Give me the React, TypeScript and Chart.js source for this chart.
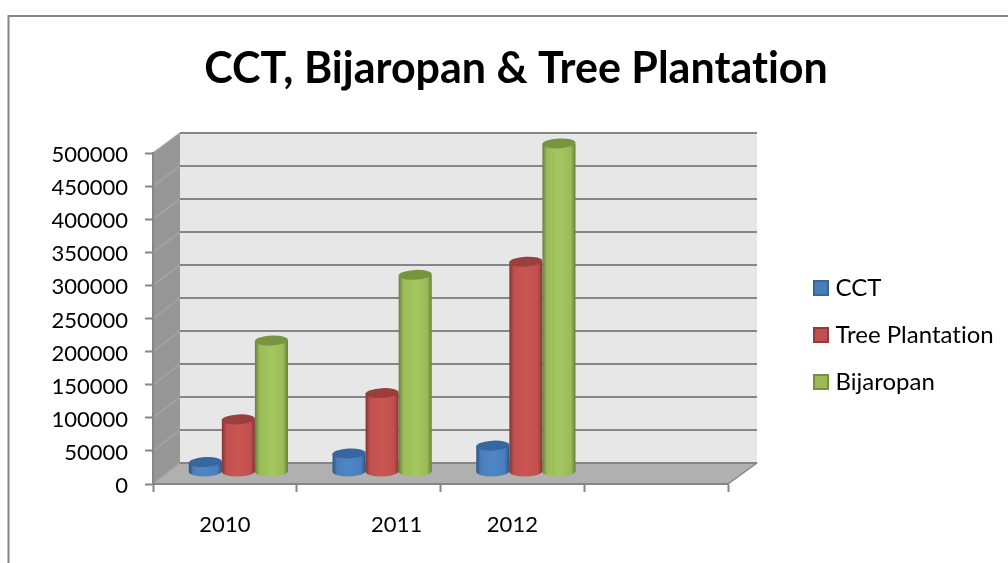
import React, { useEffect, useRef } from "react";
import { Chart, registerables } from "chart.js";

Chart.register(...registerables);

const TITLE = "CCT, Bijaropan & Tree Plantation";
const CATEGORIES = ["2010", "2011", "2012", ""];
const CCT = [15000, 28000, 40000, null];
const TREE_PLANTATION = [80000, 120000, 320000, null];
const BIJAROPAN = [200000, 300000, 500000, null];
const SERIES_NAMES = ["CCT", "Tree Plantation", "Bijaropan"];
const FILL = ["#4a7ebb", "#c0504d", "#9bbb59"];
const LIGHT = ["#4f86c6", "#cb5653", "#a3c75f"];
const EDGE = ["#2a5585", "#843432", "#64803a"];
const CAP = ["#38679f", "#9a3f3d", "#78943f"];
const LEGEND_EDGE = ["#3a6797", "#943b39", "#76923c"];
const TICK_STEP = 50000;
const TICK_MAX = 500000;
const LABEL_NUDGE = [0, 28, 0, 0];

const LINE = "#868686";
const FONT = "Lato";

const threeD = {
  id: "threeD",
  afterLayout(chart: any) {
    const t = chart.titleBlock;
    t.left = 24;
    t.right = 1008;
    const lg = chart.legend;
    lg.left = 795.5;
    lg.right = 1008;
    lg.top = 253;
    lg.bottom = 563;
    chart.scales.x.getLabelItems().forEach((item: any, i: number) => {
      item.options.translation[0] += LABEL_NUDGE[i] || 0;
    });
    chart.scales.y.getLabelItems().forEach((item: any) => {
      item.options.translation[0] += 1;
      item.options.translation[1] += 2;
    });
  },
  beforeDraw(chart: any) {
    const { ctx, chartArea: a, scales } = chart;
    const L = a.left, R = a.right, T = a.top, B = a.bottom;
    const dxL = 27, dxR = 29, dy = 21;
    ctx.save();
    ctx.fillStyle = "#fff";
    ctx.fillRect(0, 0, chart.width, chart.height);
    // frame
    ctx.strokeStyle = LINE;
    ctx.lineWidth = 2;
    ctx.beginPath();
    ctx.moveTo(8.5, chart.height);
    ctx.lineTo(8.5, 16);
    ctx.lineTo(chart.width, 16);
    ctx.stroke();
    // back wall
    ctx.fillStyle = "#e7e7e7";
    ctx.fillRect(L + dxL, T - 20, R + dxR - L - dxL, B - T - 1);
    // side wall
    ctx.fillStyle = "#969696";
    ctx.beginPath();
    ctx.moveTo(L, B);
    ctx.lineTo(L + dxL, B - dy);
    ctx.lineTo(L + dxL, T - 20);
    ctx.lineTo(L, T);
    ctx.closePath();
    ctx.fill();
    // floor
    ctx.fillStyle = "#b0b0b0";
    ctx.beginPath();
    ctx.moveTo(L, B);
    ctx.lineTo(R, B);
    ctx.lineTo(R + dxR, B - dy);
    ctx.lineTo(L + dxL, B - dy);
    ctx.closePath();
    ctx.fill();
    // grid
    scales.y.ticks.forEach((tk: any) => {
      const y = scales.y.getPixelForValue(tk.value);
      const back = y - 20 - (1 * (y - T)) / (B - T);
      ctx.strokeStyle = "#a6a6a6";
      ctx.lineWidth = 1.5;
      ctx.beginPath();
      ctx.moveTo(L, y);
      ctx.lineTo(L + dxL, back);
      ctx.stroke();
      ctx.strokeStyle = LINE;
      ctx.lineWidth = 2;
      ctx.beginPath();
      ctx.moveTo(L + dxL, back);
      ctx.lineTo(R + dxR, back);
      ctx.stroke();
    });
    ctx.strokeStyle = LINE;
    ctx.lineWidth = 1.5;
    ctx.beginPath();
    ctx.moveTo(R, B);
    ctx.lineTo(R + dxR, B - dy);
    ctx.stroke();
    ctx.restore();
    ctx.letterSpacing = "0.001px";
  },
  // Series are painted left to right, so each cylinder overlaps the one before it.
  beforeDatasetsDraw(chart: any) {
    const c = chart.ctx;
    c.save();
    c.transform(1, 0, 0, 0.9924, 13.5, -8.4);
    chart.data.datasets.forEach((ds: any, i: number) => {
      const meta = chart.getDatasetMeta(i);
      meta.data.forEach((el: any, k: number) => {
        if (ds.data[k] == null) return;
        const l = el.x - el.width / 2;
        const g = c.createLinearGradient(l, 0, l + el.width, 0);
        g.addColorStop(0, EDGE[i]);
        g.addColorStop(0.14, FILL[i]);
        g.addColorStop(0.5, LIGHT[i]);
        g.addColorStop(0.86, FILL[i]);
        g.addColorStop(1, EDGE[i]);
        el.options = { ...el.options, backgroundColor: g };
        c.fillStyle = g;
        c.beginPath();
        c.ellipse(el.x, el.base, el.width / 2, 5, -0.02, 0, Math.PI * 2);
        c.fill();
      });
      meta.controller.draw();
      meta.data.forEach((el: any, k: number) => {
        if (ds.data[k] == null) return;
        c.fillStyle = CAP[i];
        c.beginPath();
        c.ellipse(el.x, el.y, el.width / 2, 5, -0.05, 0, Math.PI * 2);
        c.fill();
      });
    });
    c.restore();
    return false;
  },
};

export default function App() {
  const ref = useRef<HTMLCanvasElement>(null);
  useEffect(() => {
    document.body.style.margin = "0";
    const seriesValues = [CCT, TREE_PLANTATION, BIJAROPAN];
    const chart = new Chart(ref.current as HTMLCanvasElement, {
      type: "bar",
      data: {
        labels: CATEGORIES,
        datasets: seriesValues.map((data, i) => ({
          label: SERIES_NAMES[i],
          data,
          backgroundColor: FILL[i],
          borderWidth: 0,
          categoryPercentage: 0.69,
          barPercentage: 1,
        })),
      },
      options: {
        responsive: false,
        animation: false,
        layout: { padding: { left: 0, right: 280, top: 0, bottom: 0 } },
        plugins: {
          tooltip: { enabled: false },
          title: {
            display: true,
            text: TITLE,
            color: "#000",
            font: { family: FONT, size: 43, weight: "bold", lineHeight: 1.2 },
            padding: { top: 43, bottom: 58.4 },
          },
          legend: {
            position: "chartArea" as any,
            align: "start",
            labels: {
              usePointStyle: true,
              boxWidth: 5,
              boxHeight: 14,
              padding: 23,
              color: "#000",
              font: { family: FONT, size: 24 },
              generateLabels: (ch: any) =>
                ch.data.datasets.map((d: any, i: number) => ({
                  text: d.label,
                  fillStyle: FILL[i],
                  strokeStyle: LEGEND_EDGE[i],
                  lineWidth: 2,
                  pointStyle: "rect",
                  datasetIndex: i,
                  hidden: false,
                  fontColor: "#000",
                })),
            },
          },
        },
        scales: {
          x: {
            afterFit: (s: any) => {
              s.height = 79;
            },
            grid: {
              drawOnChartArea: false,
              tickLength: 8,
              tickColor: LINE,
              tickWidth: 2,
            },
            border: { color: LINE, width: 2 },
            ticks: {
              color: "#000",
              font: { family: FONT, size: 22 },
              padding: 20,
              maxRotation: 0,
              autoSkip: false,
            },
          },
          y: {
            min: 0,
            max: TICK_MAX,
            afterFit: (s: any) => {
              s.width = 153;
            },
            grid: {
              drawOnChartArea: false,
              tickLength: 8,
              tickColor: LINE,
              tickWidth: 2,
            },
            border: { color: LINE, width: 2 },
            ticks: {
              stepSize: TICK_STEP,
              color: "#000",
              font: { family: FONT, size: 22 },
              padding: 18,
              callback: (v: any) => String(v),
            },
          },
        },
      },
      plugins: [threeD],
    } as any);
    return () => chart.destroy();
  }, []);
  return (
    <div style={{ width: 1008, height: 563 }}>
      <canvas ref={ref} width={1008} height={563} style={{ display: "block" }} />
    </div>
  );
}
